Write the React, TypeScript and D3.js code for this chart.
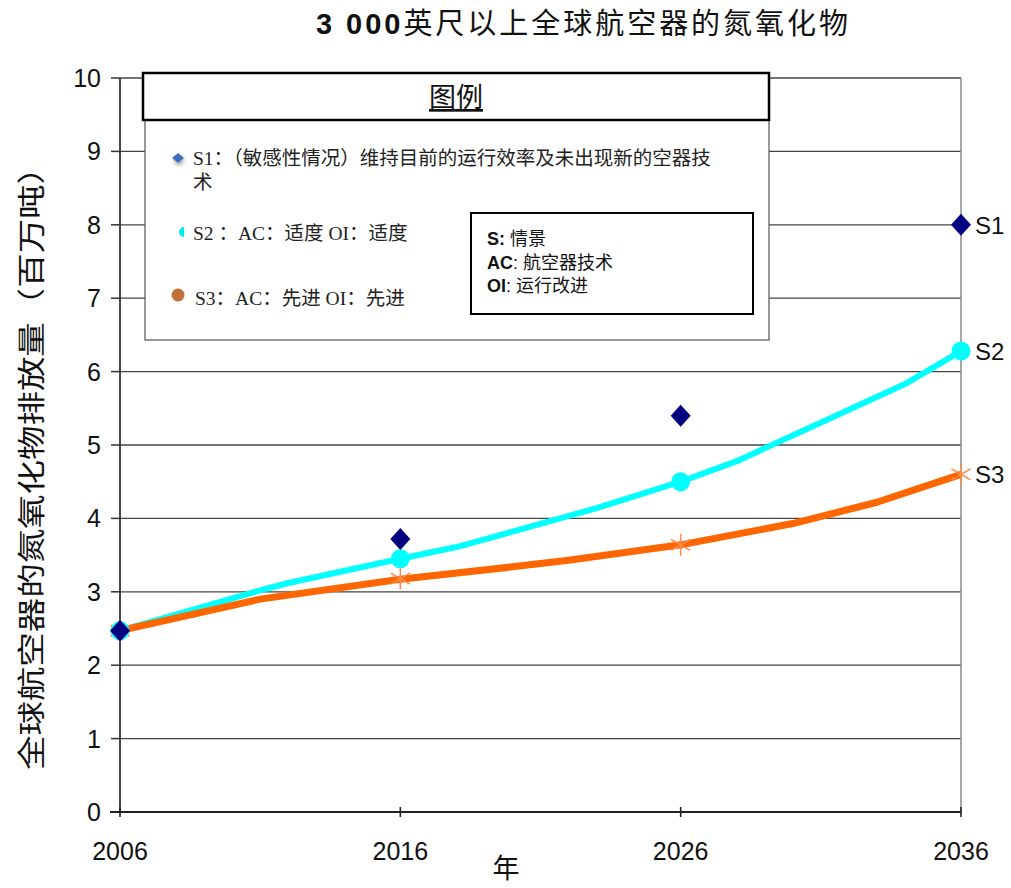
import React from "react";
import * as d3 from "d3";

// Scenario marker years and values (million tonnes NOx)
const years = [2006, 2016, 2026, 2036];
const s1Values = [2.47, 3.72, 5.4, 8.0];
const s2Values = [2.47, 3.45, 4.5, 6.28];
const s3Values = [2.47, 3.18, 3.64, 4.6];

// Finer trajectories traced by the S2 and S3 lines
const s2LineYears = [2006, 2011, 2012, 2016, 2018, 2020, 2023, 2026, 2028, 2032, 2034, 2036];
const s2LineValues = [2.47, 3.02, 3.12, 3.45, 3.61, 3.82, 4.14, 4.5, 4.78, 5.48, 5.83, 6.28];
const s3LineYears = [2006, 2011, 2016, 2020, 2022, 2026, 2030, 2033, 2036];
const s3LineValues = [2.47, 2.9, 3.17, 3.34, 3.43, 3.64, 3.93, 4.22, 4.6];

const yTicks = [0, 1, 2, 3, 4, 5, 6, 7, 8, 9, 10];
const seriesNames = ["S1", "S2", "S3"];

const titleNumber = "3 000";
const titleText = "英尺以上全球航空器的氮氧化物";
const yTitle = "全球航空器的氮氧化物排放量（百万吨）";
const xTitle = "年";
const legendTitle = "图例";
const legendItems = [
  ["S1：（敏感性情况）维持目前的运行效率及未出现新的空器技", "术"],
  ["S2 ：AC：适度 OI：适度"],
  ["S3：AC：先进 OI：先进"],
];
const keyItems = [
  ["S:", " 情景"],
  ["AC", ": 航空器技术"],
  ["OI", ": 运行改进"],
];

const SANS = "'Liberation Sans', Arial, 'Noto Sans CJK SC', sans-serif";
const SERIF = "'Liberation Serif', 'Times New Roman', 'Noto Sans CJK SC', serif";

export default function App() {
  const x = d3.scaleLinear().domain([2006, 2036]).range([120, 961]);
  const y = d3.scaleLinear().domain([0, 10]).range([812, 78]);

  const line = d3
    .line<[number, number]>()
    .x((d) => x(d[0]))
    .y((d) => y(d[1]));

  const s2Path = line(s2LineYears.map((yr, i) => [yr, s2LineValues[i]]))!;
  const s3Path = line(s3LineYears.map((yr, i) => [yr, s3LineValues[i]]))!;

  const diamond = (cx: number, cy: number, w: number, h: number) =>
    `M${cx},${cy - h}L${cx + w},${cy}L${cx},${cy + h}L${cx - w},${cy}Z`;

  const star = (cx: number, cy: number, r: number) => {
    const a = r * 0.87;
    const b = r * 0.5;
    return `M${cx},${cy - r}L${cx},${cy + r}M${cx - a},${cy - b}L${cx + a},${cy + b}M${cx - a},${cy + b}L${cx + a},${cy - b}`;
  };

  const endValues = [s1Values[3], s2Values[3], s3Values[3]];

  return (
    <svg width={1011} height={888} style={{ position: "absolute", left: 0, top: 0, background: "#fff" }}>
      <defs>
        <filter id="markShadow" x="-100%" y="-100%" width="300%" height="300%">
          <feGaussianBlur in="SourceAlpha" stdDeviation="2" />
          <feOffset dx="1" dy="3" result="b" />
          <feComponentTransfer>
            <feFuncA type="linear" slope="0.35" />
          </feComponentTransfer>
          <feMerge>
            <feMergeNode />
            <feMergeNode in="SourceGraphic" />
          </feMerge>
        </filter>
      </defs>

      {/* title */}
      <text
        x={316}
        y={34}
        fontFamily={SANS}
        fontSize={29}
        fill="#111"
        textLength={532}
        lengthAdjust="spacing"
      >
        <tspan fontWeight="bold">{titleNumber}</tspan>
        <tspan>{titleText}</tspan>
      </text>

      {/* horizontal gridlines */}
      {yTicks.slice(1).map((t) => (
        <line key={t} x1={x(2006)} x2={x(2036)} y1={y(t)} y2={y(t)} stroke="#444" strokeWidth={1.3} />
      ))}
      {/* right border */}
      <line x1={x(2036)} x2={x(2036)} y1={y(10)} y2={y(0)} stroke="#888" strokeWidth={1.5} />

      {/* y axis */}
      <line x1={x(2006)} x2={x(2006)} y1={y(10)} y2={y(0)} stroke="#333" strokeWidth={1.8} />
      {yTicks.map((t) => (
        <g key={t}>
          <line x1={x(2006) - 9} x2={x(2006)} y1={y(t)} y2={y(t)} stroke="#333" strokeWidth={1.5} />
          <text x={101} y={y(t) + 9} textAnchor="end" fontFamily={SANS} fontSize={25} fill="#111">
            {t}
          </text>
        </g>
      ))}

      {/* x axis */}
      <line x1={x(2006) - 10} x2={x(2036)} y1={y(0)} y2={y(0)} stroke="#222" strokeWidth={2} />
      {years.map((yr) => (
        <g key={yr}>
          <line x1={x(yr)} x2={x(yr)} y1={y(0) - 5} y2={y(0) + 5} stroke="#222" strokeWidth={1.6} />
          <text x={x(yr)} y={860} textAnchor="middle" fontFamily={SANS} fontSize={25} fill="#111">
            {yr}
          </text>
        </g>
      ))}

      {/* axis titles */}
      <text x={506} y={878} textAnchor="middle" fontFamily={SERIF} fontSize={27} fill="#111">
        {xTitle}
      </text>
      <text
        transform="translate(42,460) rotate(-90)"
        textAnchor="middle"
        fontFamily={SERIF}
        fontSize={28}
        fill="#111"
        textLength={620}
        lengthAdjust="spacingAndGlyphs"
      >
        {yTitle}
      </text>

      {/* legend */}
      <rect x={145} y={120} width={624} height={220} fill="#fff" stroke="#555" strokeWidth={1.2} />
      <rect x={143} y={73} width={626} height={47} fill="#fff" stroke="#000" strokeWidth={2.5} />
      <text x={456} y={107} textAnchor="middle" fontFamily={SANS} fontSize={27} fill="#111" textDecoration="underline">
        {legendTitle}
      </text>

      <path d={diamond(178, 158, 6, 5)} fill="#3b6fba" filter="url(#markShadow)" />
      <path d="M184,227 A5,5 0 0 0 184,237 Z" fill="#00e8f0" />
      <circle cx={178} cy={295} r={6.5} fill="#c07038" />

      {legendItems.map((lines, i) => (
        <text key={i} fontFamily={SERIF} fontSize={19.5} fill="#222">
          {lines.map((l, j) => (
            <tspan key={j} x={i === 2 ? 195 : 193} y={[165, 240, 305][i] + j * 24}>
              {l}
            </tspan>
          ))}
        </text>
      ))}

      <rect x={471} y={213} width={282} height={101} fill="#fff" stroke="#000" strokeWidth={2} />
      {keyItems.map((k, i) => (
        <text key={i} x={487} y={245 + i * 23.5} fontFamily={SANS} fontSize={18} fill="#111">
          <tspan fontWeight="bold">{k[0]}</tspan>
          <tspan>{k[1]}</tspan>
        </text>
      ))}

      {/* series lines */}
      <path d={s2Path} fill="none" stroke="#00ffff" strokeWidth={6} strokeLinejoin="round" />
      <path d={s3Path} fill="none" stroke="#ff6600" strokeWidth={7} strokeLinejoin="round" />

      {/* markers */}
      {years.map((yr, i) => (
        <path key={`s3-${yr}`} d={star(x(yr), y(s3Values[i]), 11)} stroke="#ff8c4d" strokeWidth={1.6} fill="none" />
      ))}
      {years.map((yr, i) => (
        <circle key={`s2-${yr}`} cx={x(yr)} cy={y(s2Values[i])} r={9.5} fill="#00ffff" />
      ))}
      {years.map((yr, i) => (
        <path key={`s1-${yr}`} d={diamond(x(yr), y(s1Values[i]), 10, 11)} fill="#000080" />
      ))}

      {/* series end labels */}
      {seriesNames.map((n, i) => (
        <text key={n} x={975} y={y(endValues[i]) + 9} fontFamily={SANS} fontSize={24} fill="#111">
          {n}
        </text>
      ))}
    </svg>
  );
}
